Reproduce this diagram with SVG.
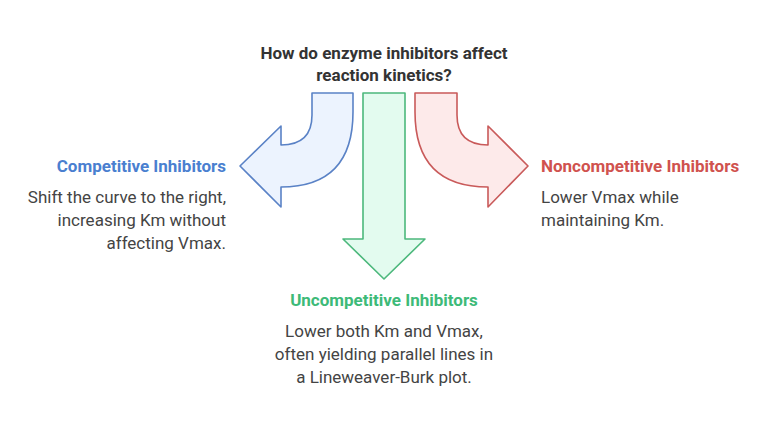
<svg xmlns="http://www.w3.org/2000/svg" width="768" height="426" viewBox="0 0 768 426">
<style>
text{font-family:Roboto,"Liberation Sans",sans-serif;}
.t{font-size:17px;font-weight:bold;fill:#333;text-anchor:middle}
.h{font-size:17px;font-weight:bold}
.d{font-size:17px;fill:#444}
</style>
<rect width="768" height="426" fill="#fff"/>
<g id="connectors">
<path id="blue" d="M312,93 L353,93 L353,112 Q353,187 281,187 L281,207 L240,166 L281,126 L281,145 Q312,145 312,115 Z" fill="#ecf3fe" stroke="#5a82c6" stroke-width="1.6" stroke-linejoin="round"/>
<path id="green" d="M363,93 L405,93 L405,239 L425,239 L384,279 L343,239 L363,239 Z" fill="#e3fbef" stroke="#4cb87c" stroke-width="1.6" stroke-linejoin="round"/>
<path id="red" d="M457,93 L415,93 L415,112 Q415,187 488,187 L488,207 L528,166 L488,126 L488,145 Q457,145 457,115 Z" fill="#fdeaea" stroke="#c95a5a" stroke-width="1.6" stroke-linejoin="round"/>
</g>
<g id="title"><text class="t" x="384" y="59">How do enzyme inhibitors affect</text><text class="t" x="384" y="81">reaction kinetics?</text></g>
<g id="competitive">
<text class="h" x="226" y="172" text-anchor="end" fill="#4a7fd0">Competitive Inhibitors</text>
<text class="d" x="226" y="203" text-anchor="end">Shift the curve to the right,</text>
<text class="d" x="226" y="226" text-anchor="end">increasing Km without</text>
<text class="d" x="226" y="249" text-anchor="end">affecting Vmax.</text>
</g>
<g id="noncompetitive">
<text class="h" x="541" y="172" fill="#d0524e">Noncompetitive Inhibitors</text>
<text class="d" x="541" y="203">Lower Vmax while</text>
<text class="d" x="541" y="226">maintaining Km.</text>
</g>
<g id="uncompetitive">
<text class="h" x="384" y="306" text-anchor="middle" fill="#3dba78">Uncompetitive Inhibitors</text>
<text class="d" x="384" y="337" text-anchor="middle">Lower both Km and Vmax,</text>
<text class="d" x="384" y="360" text-anchor="middle">often yielding parallel lines in</text>
<text class="d" x="384" y="383" text-anchor="middle">a Lineweaver-Burk plot.</text>
</g>
</svg>
